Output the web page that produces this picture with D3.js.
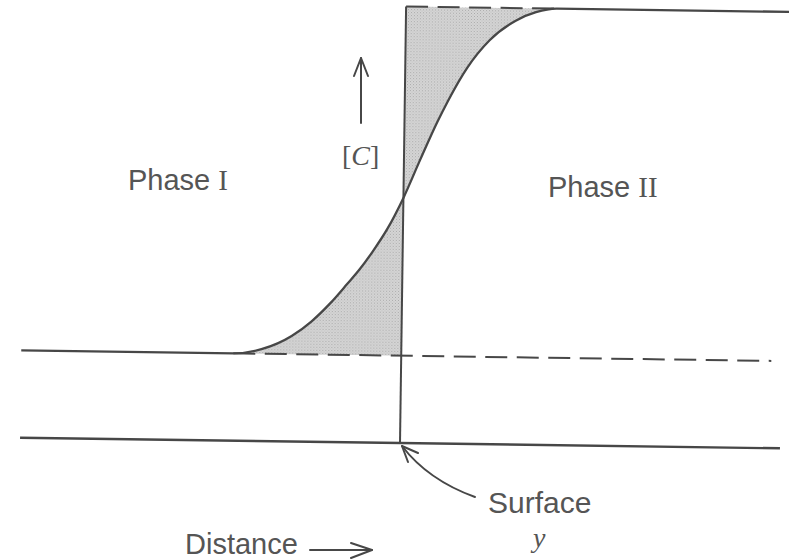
<!DOCTYPE html>
<html>
<head>
<meta charset="utf-8">
<script src="https://cdn.jsdelivr.net/npm/d3@7"></script>
<style>
  html, body { margin: 0; padding: 0; background: #fff; }
  svg { display: block; }
</style>
</head>
<body>
<div id="chart"></div>
<script>
// ---- data (distance in arbitrary units, interface at 0; concentration normalised) ----
const curveDistance = [-4.42, -3.68, -2.89, -2.37, -1.89, -1.45, -1.13, -0.79, -0.42, 0, 0.42, 0.87, 1.13, 1.63, 2.21, 2.89, 3.42, 3.97];
const curveConc     = [0, 0.013, 0.052, 0.095, 0.147, 0.203, 0.245, 0.297, 0.361, 0.452, 0.560, 0.672, 0.730, 0.827, 0.907, 0.964, 0.989, 1.0];
const phaseIConc = 0;       // bulk concentration, phase I
const phaseIIConc = 1;      // bulk concentration, phase II
const surfaceAt = 0;        // interface position
const distanceExtent = [-10, 10];
const concExtent = [-0.25, 1];
const topLineEnd = 10.3;
const dashedLineEnd = 9.74;
const labels = { phase1: "Phase ", phase2: "Phase ", surface: "Surface", distance: "Distance", y: "y" };

// ---- layout ----
const W = 789, H = 559;
const svg = d3.select("#chart").append("svg").attr("width", W).attr("height", H);

const x = d3.scaleLinear().domain(distanceExtent).range([20, 780]);
const y = d3.scaleLinear().domain(concExtent).range([443, 6.5]);

const ink = "#474747";
const textInk = "#555";
const dash = "22,9.5";

// stipple fill
const defs = svg.append("defs");
const pat = defs.append("pattern").attr("id", "stipple").attr("patternUnits", "userSpaceOnUse")
  .attr("width", 3).attr("height", 3);
pat.append("rect").attr("width", 3).attr("height", 3).attr("fill", "#d6d6d6");
pat.append("rect").attr("x", 0).attr("y", 0).attr("width", 1).attr("height", 1).attr("fill", "#a9a9a9");
pat.append("rect").attr("x", 1.5).attr("y", 1.5).attr("width", 1).attr("height", 1).attr("fill", "#b8b8b8");

// slight tilt of the scanned figure
const g = svg.append("g").attr("transform", `rotate(0.8, ${x(surfaceAt)}, ${y(concExtent[0])})`);

const pts = curveDistance.map((d, i) => ({ d, c: curveConc[i] }));
const left = pts.filter(p => p.d <= surfaceAt);
const right = pts.filter(p => p.d >= surfaceAt);

// shaded areas
g.append("path")
  .datum(left)
  .attr("d", d3.area().x(p => x(p.d)).y0(y(phaseIConc)).y1(p => y(p.c)).curve(d3.curveMonotoneX))
  .attr("fill", "url(#stipple)");
g.append("path")
  .datum(right)
  .attr("d", d3.area().x(p => x(p.d)).y0(y(phaseIIConc)).y1(p => y(p.c)).curve(d3.curveMonotoneX))
  .attr("fill", "url(#stipple)");

// dashed extrapolation lines
g.append("line")
  .attr("x1", x(curveDistance[0])).attr("x2", x(dashedLineEnd))
  .attr("y1", y(phaseIConc)).attr("y2", y(phaseIConc))
  .attr("stroke", ink).attr("stroke-width", 2).attr("stroke-dasharray", dash);
g.append("line")
  .attr("x1", x(surfaceAt)).attr("x2", x(curveDistance[curveDistance.length - 1]))
  .attr("y1", y(phaseIIConc)).attr("y2", y(phaseIIConc))
  .attr("stroke", ink).attr("stroke-width", 2).attr("stroke-dasharray", dash);

// concentration profile
const profile = [{ d: distanceExtent[0], c: phaseIConc }, ...pts, { d: topLineEnd, c: phaseIIConc }];
g.append("path")
  .datum(profile)
  .attr("d", d3.line().x(p => x(p.d)).y(p => y(p.c)).curve(d3.curveMonotoneX))
  .attr("fill", "none").attr("stroke", ink).attr("stroke-width", 2.3);

// interface line
g.append("line")
  .attr("x1", x(surfaceAt)).attr("x2", x(surfaceAt))
  .attr("y1", y(phaseIIConc)).attr("y2", y(concExtent[0]))
  .attr("stroke", ink).attr("stroke-width", 2);

// distance axis
g.append("line")
  .attr("x1", x(distanceExtent[0])).attr("x2", x(distanceExtent[1]))
  .attr("y1", y(concExtent[0])).attr("y2", y(concExtent[0]))
  .attr("stroke", ink).attr("stroke-width", 2.4);

// ---- annotations ----
const sans = "'Liberation Sans', Arial, sans-serif";
const serif = "'Liberation Serif', 'Times New Roman', serif";

function txt(px, py, size) {
  return svg.append("text").attr("x", px).attr("y", py)
    .attr("font-family", sans).attr("font-size", size).attr("fill", textInk);
}
const p1 = txt(128, 190, 29);
p1.append("tspan").text(labels.phase1);
p1.append("tspan").attr("font-family", serif).text("I");
const p2 = txt(548, 197, 29);
p2.append("tspan").text(labels.phase2);
p2.append("tspan").attr("font-family", serif).text("II");

const cl = svg.append("text").attr("x", 342).attr("y", 165)
  .attr("font-family", serif).attr("font-size", 28).attr("fill", textInk);
cl.append("tspan").text("[");
cl.append("tspan").attr("font-style", "italic").text("C");
cl.append("tspan").text("]");

txt(488, 513, 30).text(labels.surface);
txt(185, 554, 29).text(labels.distance);
svg.append("text").attr("x", 533).attr("y", 547)
  .attr("font-family", serif).attr("font-style", "italic").attr("font-size", 28)
  .attr("fill", textInk).text(labels.y);

// arrows
const arrowStyle = s => s.attr("fill", "none").attr("stroke", ink).attr("stroke-width", 2).attr("stroke-linecap", "round").attr("stroke-linejoin", "round");
// up arrow next to [C]
arrowStyle(svg.append("path").attr("d", "M361,123 L361,58"));
arrowStyle(svg.append("path").attr("d", "M354,76 L361,58 L368,76"));
// distance arrow
arrowStyle(svg.append("path").attr("d", "M310,550 L372,550"));
arrowStyle(svg.append("path").attr("d", "M351,543 L372,550 L351,558"));
// surface pointer
arrowStyle(svg.append("path").attr("d", "M475,497 Q428,480 402,446"));
arrowStyle(svg.append("path").attr("d", "M418,453 L402,446 L408,462"));
</script>
</body>
</html>
